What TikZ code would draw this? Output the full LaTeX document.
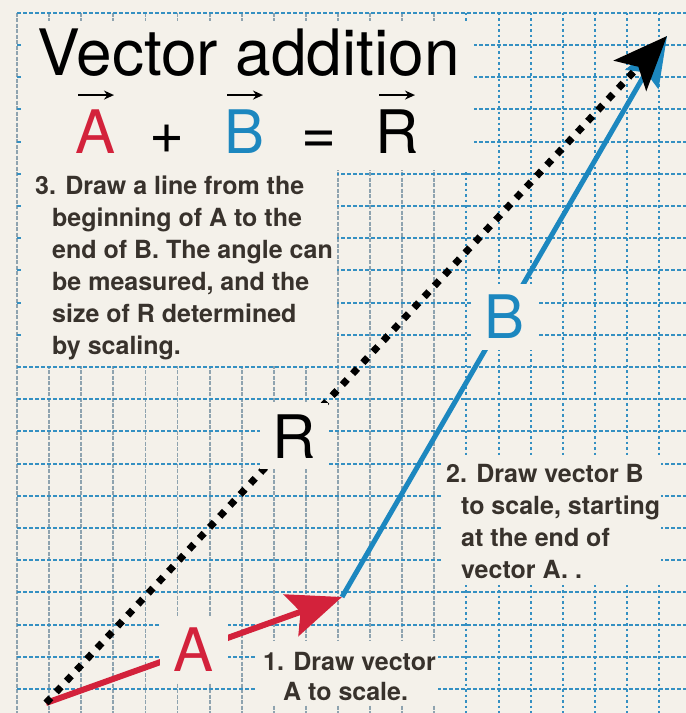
\documentclass[tikz,border=0pt]{standalone}
\usepackage{fontspec}
\setmainfont{TeX Gyre Heros}
\usepackage{tikz}
\usetikzlibrary{arrows.meta,calc}
\definecolor{paper}{HTML}{F4F1EA}
\definecolor{vec_red}{HTML}{D3223B}
\definecolor{vec_blue}{HTML}{1C87BF}
\definecolor{grid_blue}{HTML}{3490C2}
\definecolor{grid_grey}{HTML}{8EA3AF}
\definecolor{note_grey}{HTML}{38322C}

\begin{document}
\begin{tikzpicture}[x=1pt,y=-1pt,
    hline/.style={grid_blue,line width=2pt,dash pattern=on 3.5pt off 2.5pt},
    vline/.style={grid_blue,line width=2pt,dash pattern=on 2.5pt off 3pt},
    vline_box/.style={grid_grey,line width=1.8pt,dash pattern=on 4pt off 1.5pt},
    veclabel/.style={fill=paper,inner sep=0pt,minimum width=68pt,
        minimum height=66pt,font=\fontsize{60}{60}\selectfont},
    eqsym/.style={anchor=base,inner sep=0pt,font=\fontsize{60}{60}\selectfont},
    overarrow/.style={line width=2.2pt,-{Stealth[length=10pt,width=9pt]}},
    note/.style={anchor=north west,inner sep=0pt,align=left,note_grey,
        font=\fontsize{25}{32}\bfseries\selectfont}]

    \fill[paper] (0,0) rectangle (686,713);
    \useasboundingbox (0,0) rectangle (686,713);

    % graph paper
    \foreach \k in {0,...,20}{
        \pgfmathsetmacro{\gx}{17+32.1*\k}
        \ifnum\k<14
            \draw[vline_box] (\gx,12.7) -- (\gx,713);
        \else
            \draw[vline] (\gx,12.7) -- (\gx,713);
        \fi
    }
    \foreach \j in {0,...,21}{
        \pgfmathsetmacro{\gy}{12.7+32.2*\j}
        \draw[hline] (17,\gy) -- (686,\gy);
    }

    % blank areas behind the texts
    \fill[paper] (22,21) rectangle (474,170);
    \fill[paper] (22,21) rectangle (337,366);
    \fill[paper] (441,455) rectangle (661,585);
    \fill[paper] (256,641) rectangle (438,705);

    \coordinate (O) at (46,703);
    \coordinate (Aend) at (342,597);
    \coordinate (Rend) at (667,36);

    \draw[vec_blue,line width=5pt,-{Stealth[length=50pt,width=38pt,inset=8pt]}]
        (Aend) -- node[veclabel,pos=0.5] (labB) {B} (Rend);
    \draw[vec_red,line width=6pt,-{Stealth[length=54pt,width=44pt,inset=10pt]}]
        (O) -- node[veclabel,pos=0.5] (labA) {A} (Aend);
    \draw[black,line width=7pt,dash pattern=on 7pt off 8pt,
        -{Stealth[length=54pt,width=44pt,inset=12pt]}]
        (O) -- node[veclabel,pos=0.4] (labR) {R} (Rend);

    \node[anchor=base west,inner sep=0pt,font=\fontsize{64}{64}\selectfont]
        (title) at (37,75) {Vector addition};

    \node[eqsym,vec_red] (eqA) at (96,153) {A};
    \node[eqsym] (eqPlus) at (167,153) {+};
    \node[eqsym,vec_blue] (eqB) at (245,153) {B};
    \node[eqsym] (eqEq) at (319,153) {=};
    \node[eqsym] (eqR) at (397,153) {R};
    \foreach \n in {eqA,eqB,eqR}
        \draw[overarrow] ([xshift=-18pt,yshift=14pt]\n.north)
            -- ([xshift=18pt,yshift=14pt]\n.north);

    \node[note] (step3) at (35,176) {3. Draw a line from the\\
        \hspace*{17pt}beginning of A to the\\
        \hspace*{17pt}end of B. The angle can\\
        \hspace*{17pt}be measured, and the\\
        \hspace*{17pt}size of R determined\\
        \hspace*{17pt}by scaling.};
    \node[note] (step2) at (446,464) {2. Draw vector B\\
        \hspace*{15pt}to scale, starting\\
        \hspace*{15pt}at the end of\\
        \hspace*{15pt}vector A. .};
    \node[note] (step1) at (263,652) {1. Draw vector\\[-2pt]
        \hspace*{20pt}A to scale.};

\end{tikzpicture}
\end{document}
